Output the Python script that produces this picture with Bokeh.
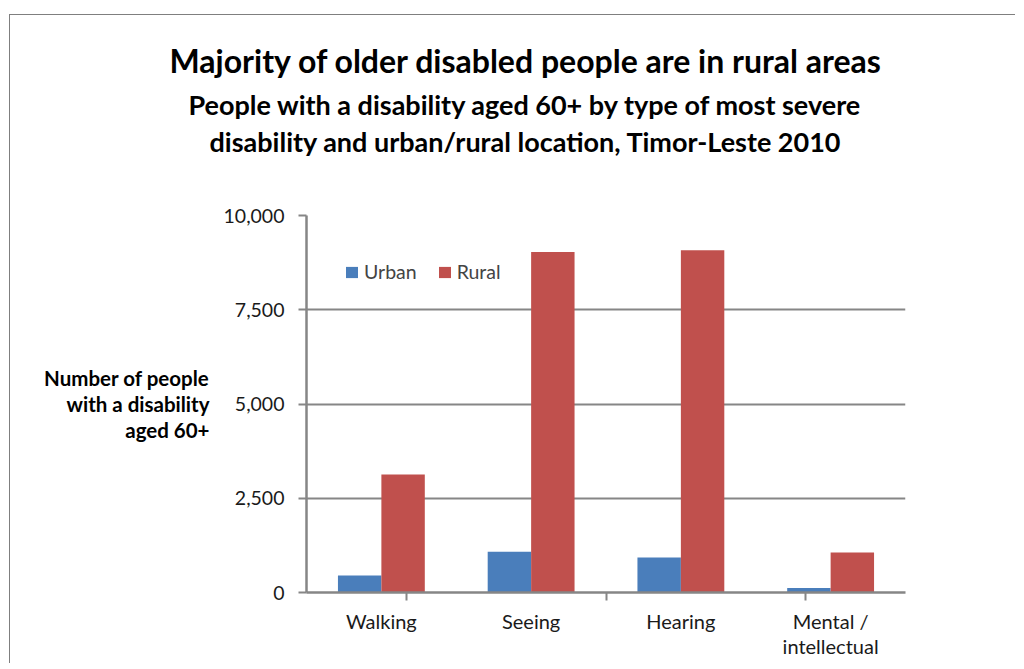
from bokeh.plotting import figure
from bokeh.models import (ColumnDataSource, FactorRange, Range1d, LinearAxis, CategoricalAxis,
                          FixedTicker, NumeralTickFormatter, Legend, Title)
from bokeh.transform import dodge
from bokeh.embed import file_html
from bokeh.resources import INLINE

# ---- data ----
categories = ["Walking", "Seeing", "Hearing", "Mental /\nintellectual"]
urban = [450, 1080, 930, 120]
rural = [3130, 9030, 9080, 1060]
y_ticks = [0, 2500, 5000, 7500, 10000]
series_names = ["Urban", "Rural"]
title_text = "Majority of older disabled people are in rural areas"
subtitle_lines = ["People with a disability aged 60+ by type of most severe",
                  "disability and urban/rural location, Timor-Leste 2010"]
ytitle = "Number of people\nwith a disability\naged 60+"
boundary_factors = ["b%d" % i for i in range(len(categories) + 1)]

FONT = "Lato"
GRID = "#868686"
BLUE = "#4A7EBB"
RED = "#C0504D"

src = ColumnDataSource(dict(cat=categories, urban=urban, rural=rural))

W, H = 1006, 649
p = figure(x_range=FactorRange(*categories), y_range=Range1d(0, 10000),
           width=W, height=H, output_backend="svg", toolbar_location=None,
           x_axis_location=None, y_axis_location=None,
           min_border_left=296, min_border_right=111, min_border_top=200, min_border_bottom=72)
p.styles = {"margin-left": "9px", "margin-top": "14px",
            "border-left": "1px solid #7f7f7f", "border-top": "1px solid #7f7f7f"}
p.outline_line_color = None
p.background_fill_color = "white"
p.border_fill_color = "white"

p.extra_x_ranges = {"bounds": FactorRange(*boundary_factors, range_padding=-1,
                                          range_padding_units="absolute")}

# invisible spacer between the frame and the title block (its ticks are invisible)
spacer = CategoricalAxis(x_range_name="bounds")
spacer.axis_line_color = None
spacer.major_tick_line_color = None
spacer.minor_tick_line_color = None
spacer.major_tick_out = 56
spacer.major_tick_in = 0
spacer.major_label_text_font_size = "0px"
spacer.major_label_text_color = None
spacer.major_label_standoff = 0
p.add_layout(spacer, "above")

# titles (first added sits closest to the frame)
for text, size, off, so in [(subtitle_lines[1], "27px", -97, 4),
                            (subtitle_lines[0], "27px", -118, 0),
                            (title_text, "32px", -137, 12)]:
    t = Title(text=text, align="left", offset=off, standoff=so,
              text_font=FONT, text_font_style="bold", text_font_size=size, text_color="black")
    p.add_layout(t, "above")

# y axis
yax = LinearAxis(ticker=FixedTicker(ticks=y_ticks), formatter=NumeralTickFormatter(format="0,0"))
yax.axis_line_color = GRID
yax.axis_line_width = 2.5
yax.major_tick_line_color = GRID
yax.major_tick_line_width = 2
yax.major_tick_out = 8
yax.major_tick_in = 0
yax.minor_tick_line_color = None
yax.major_label_standoff = 14
yax.major_label_text_font = FONT
yax.major_label_text_font_size = "19.5px"
yax.major_label_text_color = "#1a1a1a"
yax.axis_label = ytitle
yax.axis_label_orientation = "horizontal"
yax.axis_label_text_font = FONT
yax.axis_label_text_font_style = "bold"
yax.axis_label_text_font_size = "20.5px"
yax.axis_label_text_align = "center"
yax.axis_label_text_line_height = 1.1
yax.axis_label_standoff = 11
yax.axis_label_text_color = "black"
p.add_layout(yax, "left")

# x axis boundary ticks: categorical range whose factor centres sit on category edges
bax = CategoricalAxis(x_range_name="bounds")
bax.axis_line_color = GRID
bax.axis_line_width = 2.5
bax.major_tick_line_color = GRID
bax.major_tick_line_width = 2
bax.major_tick_out = 8
bax.major_tick_in = 0
bax.minor_tick_line_color = None
bax.major_label_text_font_size = "0px"
bax.major_label_text_color = None
bax.major_label_standoff = 0
p.add_layout(bax, "below")

# category labels
cax = CategoricalAxis()
cax.axis_line_color = None
cax.major_tick_line_color = None
cax.major_tick_out = 0
cax.major_tick_in = 0
cax.major_label_standoff = 8
cax.major_label_text_font = FONT
cax.major_label_text_font_size = "20px"
cax.major_label_text_line_height = 1.08
cax.major_label_text_color = "#1a1a1a"
p.add_layout(cax, "below")

p.ygrid.ticker = FixedTicker(ticks=y_ticks)
p.ygrid.grid_line_color = GRID
p.ygrid.grid_line_width = 2
p.xgrid.grid_line_color = None

r1 = p.vbar(x=dodge("cat", -0.145, range=p.x_range), top="urban", width=0.29, source=src,
            fill_color=BLUE, line_color=None)
r2 = p.vbar(x=dodge("cat", 0.145, range=p.x_range), top="rural", width=0.29, source=src,
            fill_color=RED, line_color=None)

legend = Legend(items=[(series_names[0], [r1]), (series_names[1], [r2])],
                orientation="horizontal", location=(38, 309))
legend.glyph_width = 15
legend.glyph_height = 14
legend.label_text_font = FONT
legend.label_text_font_size = "19.5px"
legend.label_standoff = 5
legend.spacing = 20
legend.padding = 0
legend.margin = 0
legend.border_line_color = None
legend.background_fill_alpha = 0
p.add_layout(legend, "center")

open("out.html", "w").write(file_html(p, INLINE))
